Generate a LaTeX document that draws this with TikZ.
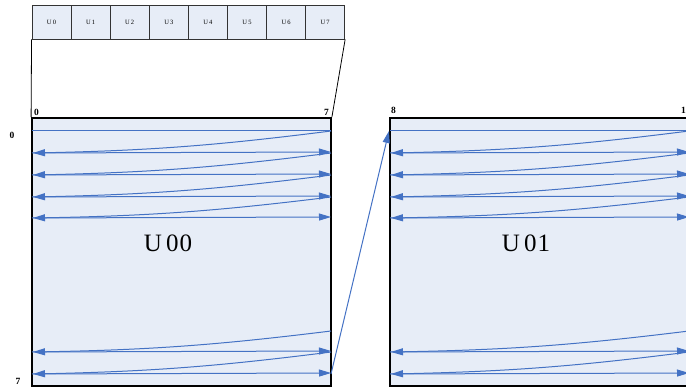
\documentclass[tikz,border=0pt]{standalone}
\usepackage{fontspec}
\setmainfont{Liberation Serif}
\usepackage{tikz}
\usetikzlibrary{arrows.meta}
\definecolor{paneblue}{HTML}{E7EDF7}
\definecolor{scanblue}{HTML}{4472C4}

\begin{document}
\begin{tikzpicture}[x=1pt,y=-1pt,
  cell/.style={draw=black!80,line width=0.8pt,fill=paneblue,minimum width=39.1pt,minimum height=34pt,inner sep=0pt,font=\fontsize{6.5}{7}\selectfont},
  block/.style={draw=black,line width=1.8pt,fill=paneblue,minimum width=299pt,minimum height=268pt,inner sep=0pt},
  idx/.style={font=\bfseries\fontsize{9.5}{10}\selectfont,inner sep=0pt},
  scan/.style={scanblue,line width=1pt},
  tip/.style={-{Triangle[length=12pt,width=7pt]}}]
  \useasboundingbox (0,0) rectangle (686,390);
  \clip (0,0) rectangle (686,390);
  \foreach \i in {0,...,7}
    \node[cell] (u\i) at ({51.5+39.1*\i},22) {U\,\i};
  \node[block] (b0) at (181.5,252) {};
  \node[block] (b1) at (539.5,252) {};
  \node[font=\fontsize{25}{28}\selectfont] (t0) at (168,243) {U\,0\kern1pt0};
  \node[font=\fontsize{25}{28}\selectfont] (t1) at (526,243) {U\,0\kern1pt1};
  % funnel from the strip to the first block
  \draw[line width=0.8pt] (u0.south west) -- (b0.north west);
  \draw[line width=0.8pt] (u7.south east) -- (b0.north east);
  \node[idx,anchor=south west] (c0) at (34,116) {0};
  \node[idx,anchor=south east] (c7) at (329,116) {7};
  \node[idx,anchor=south west] (c8) at (391,114) {8};
  \node[idx,anchor=south west] (c15) at (681,114) {15};
  \node[idx] (r0) at (12,135) {0};
  \node[idx] (r7) at (18,381) {7};
  % scan order inside each block
  \foreach \l/\r in {32/331,390/689} {
    \draw[scan] (\l,131) -- (\r,131);
    \foreach \p/\y in {131/153,153/175,175/197,197/218,331/352,352/374} {
      \draw[scan,tip] (\r,\p) to[bend left=3] (\l+1,\y);
      \draw[scan,tip] (\l,\y) -- (\r,\y-1);
    }
  }
  \coordinate (e0) at (331,374);
  \coordinate (s1) at (389,131);
  \draw[scan,tip] (e0) -- (s1);
\end{tikzpicture}
\end{document}
